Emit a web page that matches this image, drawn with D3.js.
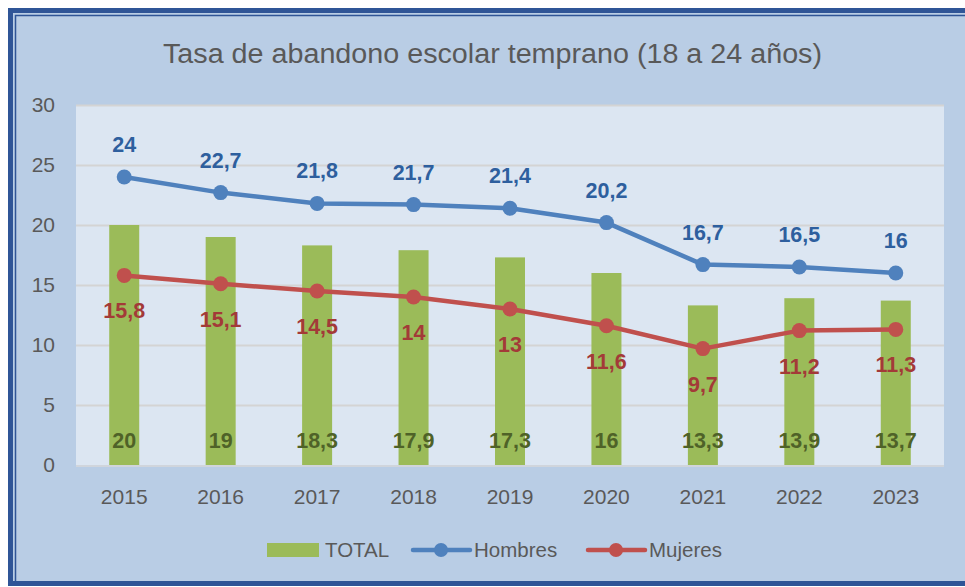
<!DOCTYPE html>
<html>
<head>
<meta charset="utf-8">
<script src="https://cdn.jsdelivr.net/npm/d3@7"></script>
<style>
  html, body { margin: 0; padding: 0; background: #ffffff; }
  svg { display: block; }
  text { font-family: "Liberation Sans", "Open Sans", sans-serif; }
</style>
</head>
<body>
<svg id="chart" width="965" height="587"></svg>
<script>
// Early school leaving rate (18–24), by year
const years = ["2015", "2016", "2017", "2018", "2019", "2020", "2021", "2022", "2023"];
const total = [20, 19, 18.3, 17.9, 17.3, 16, 13.3, 13.9, 13.7];
const hombres = [24, 22.7, 21.8, 21.7, 21.4, 20.2, 16.7, 16.5, 16];
const mujeres = [15.8, 15.1, 14.5, 14, 13, 11.6, 9.7, 11.2, 11.3];
const yTicks = [0, 5, 10, 15, 20, 25, 30];
const titleText = "Tasa de abandono escolar temprano (18 a 24 años)";

const fmt = v => String(v).replace(".", ",");

const svg = d3.select("#chart");
const W = 965, H = 587;

// outer frame
svg.append("rect").attr("x", 0).attr("y", 0).attr("width", W).attr("height", H).attr("fill", "#ffffff");
svg.append("rect").attr("x", 8).attr("y", 8).attr("width", W + 20).attr("height", 577)
  .attr("fill", "#b9cde5");
svg.append("rect").attr("x", 10.5).attr("y", 10.5).attr("width", W + 20).attr("height", 573)
  .attr("fill", "none").attr("stroke", "#2f5597").attr("stroke-width", 5);
svg.append("rect").attr("x", 15.5).attr("y", 15.5).attr("width", W + 20).attr("height", 567)
  .attr("fill", "none").attr("stroke", "#2f5597").attr("stroke-width", 1.5);

// plot area
const plot = { left: 76, right: 944, top: 105, bottom: 465 };
const x = d3.scaleBand().domain(years).range([plot.left, plot.right]).paddingInner(0).paddingOuter(0);
const y = d3.scaleLinear().domain([0, 30]).range([plot.bottom, plot.top]);

svg.append("rect").attr("x", plot.left).attr("y", plot.top)
  .attr("width", plot.right - plot.left).attr("height", plot.bottom - plot.top + 2)
  .attr("fill", "#dce6f2");

// gridlines
svg.append("g")
  .attr("transform", `translate(${plot.left},0)`)
  .call(d3.axisLeft(y).tickValues(yTicks.filter(t => t > 0)).tickSize(-(plot.right - plot.left)).tickFormat(""))
  .call(g => g.select(".domain").remove())
  .call(g => g.selectAll("line").attr("stroke", "#d4d4d4").attr("stroke-width", 2));

// baseline shadow
svg.append("line").attr("x1", plot.left).attr("x2", plot.right)
  .attr("y1", plot.bottom + 1).attr("y2", plot.bottom + 1)
  .attr("stroke", "#d0d5dc").attr("stroke-width", 2);

// y axis labels
svg.append("g")
  .attr("transform", `translate(55,0)`)
  .call(d3.axisLeft(y).tickValues(yTicks).tickSize(0).tickPadding(0))
  .call(g => g.select(".domain").remove())
  .call(g => g.selectAll("text").attr("fill", "#595959").attr("font-size", 21)
    .attr("font-family", "'Liberation Sans', sans-serif"));

// x axis labels
svg.append("g")
  .attr("transform", `translate(0,${plot.bottom})`)
  .call(d3.axisBottom(x).tickSize(0).tickPadding(24))
  .call(g => g.select(".domain").remove())
  .call(g => g.selectAll("text").attr("fill", "#595959").attr("font-size", 21)
    .attr("font-family", "'Liberation Sans', sans-serif"));

// bars
const barW = 30;
svg.append("g").selectAll("rect").data(years).join("rect")
  .attr("x", (d) => x(d) + x.bandwidth() / 2 - barW / 2)
  .attr("width", barW)
  .attr("y", (d, i) => y(total[i]))
  .attr("height", (d, i) => y(0) - y(total[i]))
  .attr("fill", "#9bbb59");

// lines
const cx = d => x(d) + x.bandwidth() / 2;
const lineGen = vals => d3.line().x((d, i) => cx(years[i])).y(d => y(d))(vals);

function drawSeries(vals, color) {
  svg.append("path").attr("d", lineGen(vals)).attr("fill", "none")
    .attr("stroke", color).attr("stroke-width", 4.5).attr("stroke-linejoin", "round");
  svg.append("g").selectAll("circle").data(vals).join("circle")
    .attr("cx", (d, i) => cx(years[i])).attr("cy", d => y(d)).attr("r", 7.5)
    .attr("fill", color);
}
drawSeries(hombres, "#4f81bd");
drawSeries(mujeres, "#c0504d");

// data labels
const labelFont = 21.5;
svg.append("g").selectAll("text").data(hombres).join("text")
  .attr("x", (d, i) => cx(years[i])).attr("y", d => y(d) - 25)
  .attr("text-anchor", "middle").attr("font-size", labelFont).attr("font-weight", "bold")
  .attr("fill", "#2e5f9e").text(fmt);
svg.append("g").selectAll("text").data(mujeres).join("text")
  .attr("x", (d, i) => cx(years[i])).attr("y", d => y(d) + 43)
  .attr("text-anchor", "middle").attr("font-size", labelFont).attr("font-weight", "bold")
  .attr("fill", "#a33a38").text(fmt);
svg.append("g").selectAll("text").data(total).join("text")
  .attr("x", (d, i) => cx(years[i])).attr("y", y(0) - 17)
  .attr("text-anchor", "middle").attr("font-size", labelFont).attr("font-weight", "bold")
  .attr("fill", "#4f6228").text(fmt);

// title
svg.append("text").attr("x", 492.5).attr("y", 63)
  .attr("text-anchor", "middle").attr("font-size", 27).attr("fill", "#595959")
  .attr("textLength", 659).attr("lengthAdjust", "spacingAndGlyphs")
  .text(titleText);

// legend
const lg = svg.append("g").attr("font-size", 20.5).attr("fill", "#595959");
lg.append("rect").attr("x", 267).attr("y", 543).attr("width", 52).attr("height", 14).attr("fill", "#9bbb59");
lg.append("text").attr("x", 325).attr("y", 557).attr("fill", "#595959").text("TOTAL");
[[413, "#4f81bd", "Hombres"], [588, "#c0504d", "Mujeres"]].forEach(([lx, c, t]) => {
  lg.append("line").attr("x1", lx).attr("x2", lx + 57).attr("y1", 550).attr("y2", 550)
    .attr("stroke", c).attr("stroke-width", 4.5).attr("stroke-linecap", "round");
  lg.append("circle").attr("cx", lx + 28).attr("cy", 550).attr("r", 7).attr("fill", c);
  lg.append("text").attr("x", lx + 61).attr("y", 557).attr("fill", "#595959").text(t);
});
</script>
</body>
</html>
